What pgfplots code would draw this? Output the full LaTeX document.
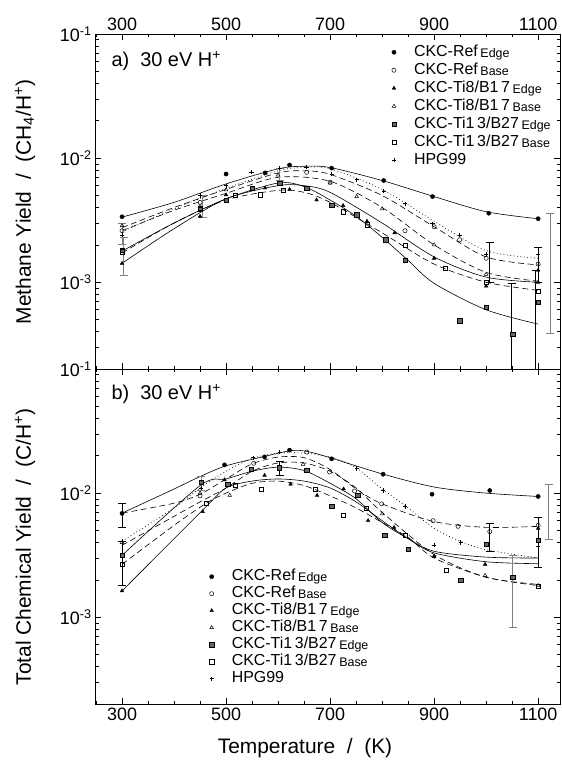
\documentclass[border=0pt]{standalone}
\usepackage{pgfplots}
\pgfplotsset{compat=1.18}
\usepackage{fontspec}
\setmainfont{Liberation Sans}
\newcommand{\sbt}[1]{\,\raisebox{-1.2bp}{\fontsize{12.5}{12.5}\selectfont #1}}
\pgfplotsset{
  mysolid/.style={black, line width=0.6pt, smooth, forget plot},
  mydash/.style={black, line width=0.6pt, smooth, forget plot, dash pattern=on 6bp off 3.5bp},
  mydot/.style={black, line width=0.7pt, smooth, forget plot, dash pattern=on 0.8bp off 2.6bp},
  mypts/.style={only marks, mark size=2.1bp, mark options={solid, line width=0.5pt, draw=black}},
  myebar/.style={forget plot, draw=none, mark=none,
     error bars/y dir=both, error bars/y explicit,
     error bars/error bar style={draw=#1, line width=0.9pt, solid},
     error bars/error mark options={rotate=90, mark size=4bp, draw=#1, line width=0.9pt, solid}},
}
\begin{document}
\begin{tikzpicture}
\useasboundingbox (0,0) rectangle (562bp,761bp);
% ---------------- panel a ----------------
\begin{axis}[
    scale only axis, width=465bp, height=335bp,
    xmin=248, xmax=1142, ymode=log, ymin=2e-4, ymax=0.1,
    xtick={300,500,700,900,1100},
    minor xtick={250,350,400,450,550,600,650,750,800,850,950,1000,1050},
    ytick={0.001,0.01,0.1},
    yticklabels={10\textsuperscript{-3},10\textsuperscript{-2},10\textsuperscript{-1}},
    minor ytick={2e-4,3e-4,4e-4,5e-4,6e-4,7e-4,8e-4,9e-4,2e-3,3e-3,4e-3,5e-3,6e-3,7e-3,8e-3,9e-3,2e-2,3e-2,4e-2,5e-2,6e-2,7e-2,8e-2,9e-2},
    tick align=inside, major tick length=6bp, minor tick length=3.5bp,
    tick style={black, line width=0.6pt},
    axis line style={line width=1pt},
    ticklabel style={font=\fontsize{18}{18}\selectfont},
    /pgf/number format/assume math mode=true,
    /pgf/number format/1000 sep={},
    clip mode=individual,
    legend cell align=left,
  at={(95bp,392bp)}, anchor=south west, xticklabel pos=right,
  legend style={at={(0.638,0.973)}, anchor=north west, draw=none, fill=none,
    font=\fontsize{16}{16}\selectfont, row sep=0pt, inner sep=0pt,
    nodes={inner sep=1bp, text height=12bp, text depth=4bp},
    /tikz/every odd column/.append style={column sep=17bp}}]
% fit curves
\addplot[mysolid] coordinates {(300,3.35e-3)(400,4.4e-3)(500,6.2e-3)(600,8.2e-3)(650,8.6e-3)(700,8.4e-3)(800,6.6e-3)(900,4.9e-3)(1000,3.7e-3)(1100,3.25e-3)};
\addplot[mydot] coordinates {(300,2.55e-3)(400,3.9e-3)(500,5.7e-3)(600,7.9e-3)(650,8.4e-3)(700,8.2e-3)(800,5.6e-3)(900,3.1e-3)(1000,1.8e-3)(1100,1.56e-3)};
\addplot[mydash] coordinates {(300,2.75e-3)(400,4.0e-3)(500,5.6e-3)(600,7.6e-3)(650,7.9e-3)(700,7.4e-3)(800,5.0e-3)(900,2.8e-3)(1000,1.6e-3)(1100,1.38e-3)};
\addplot[mydash] coordinates {(300,2.6e-3)(400,3.8e-3)(500,5.2e-3)(600,7.0e-3)(700,6.5e-3)(800,4.0e-3)(900,2.0e-3)(1000,1.2e-3)(1100,1.02e-3)};
\addplot[mysolid] coordinates {(300,1.42e-3)(400,2.7e-3)(500,4.7e-3)(600,6.0e-3)(650,6.0e-3)(700,5.3e-3)(800,3.0e-3)(900,1.6e-3)(1000,1.1e-3)(1100,1.0e-3)};
\addplot[mysolid] coordinates {(300,1.78e-3)(400,3.0e-3)(500,4.7e-3)(600,6.3e-3)(650,5.9e-3)(700,4.6e-3)(750,3.4e-3)(800,2.3e-3)(850,1.5e-3)(900,9.8e-4)(1000,6.0e-4)(1100,4.6e-4)};
\addplot[mydash] coordinates {(300,1.72e-3)(400,3.0e-3)(500,4.6e-3)(600,5.5e-3)(650,5.3e-3)(700,4.4e-3)(800,2.5e-3)(900,1.4e-3)(1000,1.0e-3)(1100,8.6e-4)};
% error bars
\addplot[myebar=gray] coordinates {(300,2.0e-3) += (0,1.0e-3) -= (0,0)};
\addplot[myebar=gray] coordinates {(303,1.13e-3) += (0,1.17e-3) -= (0,0)};
\addplot[myebar=gray] coordinates {(455,3.3e-3) += (0,1.7e-3) -= (0,0)};
\addplot[myebar=gray] coordinates {(603,6.6e-3) += (0,1.7e-3) -= (0,0)};
\addplot[myebar=black] coordinates {(1007,1.0e-3) += (0,1.1e-3) -= (0,0)};
\addplot[myebar=black] coordinates {(1049,1.0e-4) += (0,8.7e-4) -= (0,0)};
\addplot[myebar=black] coordinates {(1095,1.0e-4) += (0,1.15e-3) -= (0,0)};
\addplot[myebar=black] coordinates {(1100,1.0e-3) += (0,0.9e-3) -= (0,0)};
\addplot[myebar=gray] coordinates {(1123,3.9e-4) += (0,3.2e-3) -= (0,0)};
% data points
\addplot[mypts, mark=*, mark options={fill=black}] coordinates {(300,3.37e-3)(500,7.45e-3)(575,7.6e-3)(622,8.8e-3)(703,8.3e-3)(803,6.6e-3)(897,4.9e-3)(1005,3.6e-3)(1100,3.25e-3)};
\addlegendentry{CKC-Ref\sbt{Edge}}
\addplot[mypts, mark=o] coordinates {(300,2.6e-3)(450,4.4e-3)(655,7.7e-3)(700,6.4e-3)(844,2.6e-3)(900,2.8e-3)(949,2.2e-3)(1000,1.56e-3)(1100,1.4e-3)};
\addlegendentry{CKC-Ref\sbt{Base}}
\addplot[mypts, mark=triangle*, mark options={fill=black}] coordinates {(300,1.42e-3)(450,3.4e-3)(500,5.06e-3)(575,5.75e-3)(622,5.6e-3)(674,4.6e-3)(725,4.15e-3)(771,3.1e-3)(824,2.5e-3)(900,1.56e-3)(1000,9.3e-4)(1100,1.25e-3)};
\addlegendentry{CKC-Ti8/B1\,7\sbt{Edge}}
\addplot[mypts, mark=triangle] coordinates {(300,2.86e-3)(450,4.1e-3)(500,5.55e-3)(600,7.3e-3)(700,6.3e-3)(751,4.9e-3)(800,3.9e-3)(900,2.0e-3)(1000,1.16e-3)(1100,1.0e-3)};
\addlegendentry{CKC-Ti8/B1\,7\sbt{Base}}
\addplot[mypts, mark=square*, mark options={fill=gray!80!black}] coordinates {(300,1.8e-3)(450,3.96e-3)(500,4.6e-3)(550,5.7e-3)(603,6.3e-3)(655,5.75e-3)(703,4.2e-3)(751,3.5e-3)(807,2.2e-3)(844,1.51e-3)(949,4.9e-4)(1000,6.3e-4)(1051,3.8e-4)(1100,6.9e-4)};
\addlegendentry{CKC-Ti1\,3/B27\sbt{Edge}}
\addplot[mypts, mark=square] coordinates {(300,1.76e-3)(450,3.9e-3)(517,5.0e-3)(566,5.06e-3)(610,5.5e-3)(725,3.7e-3)(771,2.9e-3)(844,2.0e-3)(922,1.3e-3)(1000,1.0e-3)(1100,8.5e-4)};
\addlegendentry{CKC-Ti1\,3/B27\sbt{Base}}
\addplot[mypts, mark=+] coordinates {(300,2.4e-3)(450,5.0e-3)(500,6.0e-3)(549,7.7e-3)(603,8.3e-3)(655,8.5e-3)(703,7.4e-3)(751,6.7e-3)(803,5.4e-3)(844,4.3e-3)(897,2.96e-3)(949,2.4e-3)(1000,1.68e-3)(1100,1.68e-3)};
\addlegendentry{HPG99}
\end{axis}
% ---------------- panel b ----------------
\begin{axis}[
    scale only axis, width=465bp, height=335bp,
    xmin=248, xmax=1142, ymode=log, ymin=2e-4, ymax=0.1,
    xtick={300,500,700,900,1100},
    minor xtick={250,350,400,450,550,600,650,750,800,850,950,1000,1050},
    ytick={0.001,0.01,0.1},
    yticklabels={10\textsuperscript{-3},10\textsuperscript{-2},10\textsuperscript{-1}},
    minor ytick={2e-4,3e-4,4e-4,5e-4,6e-4,7e-4,8e-4,9e-4,2e-3,3e-3,4e-3,5e-3,6e-3,7e-3,8e-3,9e-3,2e-2,3e-2,4e-2,5e-2,6e-2,7e-2,8e-2,9e-2},
    tick align=inside, major tick length=6bp, minor tick length=3.5bp,
    tick style={black, line width=0.6pt},
    axis line style={line width=1pt},
    ticklabel style={font=\fontsize{18}{18}\selectfont},
    /pgf/number format/assume math mode=true,
    /pgf/number format/1000 sep={},
    clip mode=individual,
    legend cell align=left,
  at={(95bp,57bp)}, anchor=south west,
  legend style={at={(0.246,0.406)}, anchor=north west, draw=none, fill=none,
    font=\fontsize{16}{16}\selectfont, row sep=0pt, inner sep=0pt,
    nodes={inner sep=1bp, text height=11.5bp, text depth=3.5bp},
    /tikz/every odd column/.append style={column sep=17bp}}]
\addplot[mysolid] coordinates {(300,6.9e-3)(400,1.08e-2)(450,1.36e-2)(500,1.66e-2)(575,1.98e-2)(625,2.2e-2)(655,2.17e-2)(700,1.93e-2)(800,1.43e-2)(900,1.12e-2)(1000,1.0e-2)(1100,9.4e-3)};
\addplot[mydash] coordinates {(300,6.9e-3)(400,8.3e-3)(450,9.8e-3)(500,1.3e-2)(550,1.72e-2)(600,1.95e-2)(650,1.93e-2)(700,1.55e-2)(750,1.08e-2)(800,8.2e-3)(900,5.9e-3)(1000,5.3e-3)(1100,5.4e-3)};
\addplot[mydot] coordinates {(300,4.1e-3)(400,7.6e-3)(450,1.1e-2)(500,1.5e-2)(550,1.9e-2)(600,2.1e-2)(650,2.1e-2)(700,1.95e-2)(750,1.6e-2)(800,1.08e-2)(850,7.6e-3)(900,5.2e-3)(950,4.1e-3)(1000,3.5e-3)(1100,3.0e-3)};
\addplot[mydash] coordinates {(300,3.8e-3)(400,6.5e-3)(450,8.5e-3)(500,1.1e-2)(550,1.5e-2)(600,1.75e-2)(650,1.75e-2)(700,1.5e-2)(750,1.1e-2)(800,7.0e-3)(900,3.2e-3)(1000,2.1e-3)(1100,1.84e-3)};
\addplot[mysolid] coordinates {(300,3.15e-3)(450,1.15e-2)(500,1.3e-2)(550,1.5e-2)(600,1.62e-2)(650,1.52e-2)(700,1.2e-2)(750,9e-3)(800,5.8e-3)(850,4.3e-3)(900,3.4e-3)(1000,3.05e-3)(1100,3.0e-3)};
\addplot[mysolid] coordinates {(300,1.63e-3)(455,7.3e-3)(500,1.1e-2)(550,1.25e-2)(600,1.3e-2)(650,1.25e-2)(700,1.1e-2)(750,8.5e-3)(800,6.0e-3)(850,4.3e-3)(900,3.3e-3)(1000,2.8e-3)(1100,2.7e-3)};
\addplot[mydash] coordinates {(300,2.67e-3)(400,5.5e-3)(462,8.3e-3)(500,1.0e-2)(550,1.2e-2)(600,1.25e-2)(650,1.15e-2)(700,9.5e-3)(750,7.6e-3)(800,5.8e-3)(850,4.4e-3)(900,3.0e-3)(1000,2.1e-3)(1100,1.8e-3)};
\addplot[myebar=black] coordinates {(300,5.3e-3) += (0,2.9e-3) -= (0,0)};
\addplot[myebar=black] coordinates {(300,1.8e-3) += (0,2.3e-3) -= (0,0)};
\addplot[myebar=gray] coordinates {(452,1.05e-2) += (0,3.1e-3) -= (0,0)};
\addplot[myebar=black] coordinates {(603,1.4e-2) += (0,4e-3) -= (0,0)};
\addplot[myebar=black] coordinates {(1007,3.4e-3) += (0,2.35e-3) -= (0,0)};
\addplot[myebar=gray] coordinates {(1051,8.2e-4) += (0,2.3e-3) -= (0,0)};
\addplot[myebar=black] coordinates {(1100,2.5e-3) += (0,3.9e-3) -= (0,0)};
\addplot[myebar=gray] coordinates {(1120,4.2e-3) += (0,7.6e-3) -= (0,0)};
\addplot[mypts, mark=*, mark options={fill=black}] coordinates {(300,6.87e-3)(497,1.69e-2)(574,1.96e-2)(622,2.22e-2)(703,1.89e-2)(802,1.42e-2)(896,9.8e-3)(1007,1.05e-2)(1100,9.4e-3)};
\addlegendentry{CKC-Ref\sbt{Edge}}
\addplot[mypts, mark=o] coordinates {(450,9.5e-3)(553,1.74e-2)(655,2.14e-2)(699,1.48e-2)(747,1.04e-2)(799,8.2e-3)(898,6.0e-3)(946,5.4e-3)(1007,4.9e-3)(1100,5.5e-3)};
\addlegendentry{CKC-Ref\sbt{Base}}
\addplot[mypts, mark=triangle*, mark options={fill=black}] coordinates {(300,1.63e-3)(455,7.1e-3)(497,1.28e-2)(574,1.39e-2)(624,1.18e-2)(675,9.6e-3)(726,1.08e-2)(773,6.0e-3)(823,5.3e-3)(900,3.1e-3)(998,2.67e-3)(1100,5.2e-3)};
\addlegendentry{CKC-Ti8/B1\,7\sbt{Edge}}
\addplot[mypts, mark=triangle] coordinates {(300,4.0e-3)(450,1.0e-2)(507,9.6e-3)(648,1.71e-2)(800,6.8e-3)(900,3.1e-3)(998,2.17e-3)(1100,1.8e-3)};
\addlegendentry{CKC-Ti8/B1\,7\sbt{Base}}
\addplot[mypts, mark=square*, mark options={fill=gray!80!black}] coordinates {(300,3.15e-3)(452,1.22e-2)(503,1.18e-2)(549,1.56e-2)(602,1.6e-2)(655,1.54e-2)(703,7.9e-3)(753,9.6e-3)(805,4.6e-3)(850,3.56e-3)(951,1.98e-3)(1000,3.9e-3)(1051,2.1e-3)(1100,4.2e-3)};
\addlegendentry{CKC-Ti1\,3/B27\sbt{Edge}}
\addplot[mypts, mark=square] coordinates {(300,2.67e-3)(462,8.3e-3)(517,1.16e-2)(568,1.08e-2)(672,1.08e-2)(725,6.6e-3)(770,7.5e-3)(844,4.6e-3)(924,2.4e-3)(1100,1.77e-3)};
\addlegendentry{CKC-Ti1\,3/B27\sbt{Base}}
\addplot[mypts, mark=+] coordinates {(300,4.1e-3)(452,1.1e-2)(552,1.93e-2)(603,2.14e-2)(751,1.58e-2)(802,1.05e-2)(844,7.8e-3)(900,3.8e-3)(951,4.0e-3)(1100,3.7e-3)};
\addlegendentry{HPG99}
\end{axis}
% ---------------- labels ----------------
\node[anchor=base west, font=\fontsize{20}{20}\selectfont] at (108bp,694bp) {a)\ \ 30 eV H\textsuperscript{+}};
\node[anchor=base west, font=\fontsize{20}{20}\selectfont] at (108bp,361bp) {b)\ \ 30 eV H\textsuperscript{+}};
\node[rotate=90, font=\fontsize{21}{21}\selectfont] at (25bp,559bp) {Methane Yield\ \ /\ \ (CH\textsubscript{4}/H\textsuperscript{+})};
\node[rotate=90, font=\fontsize{21}{21}\selectfont] at (25bp,214bp) {Total Chemical Yield\ \ /\ \ (C/H\textsuperscript{+})};
\node[font=\fontsize{21}{21}\selectfont] at (305bp,13bp) {Temperature\ \ /\ \ (K)};
\end{tikzpicture}
\end{document}
